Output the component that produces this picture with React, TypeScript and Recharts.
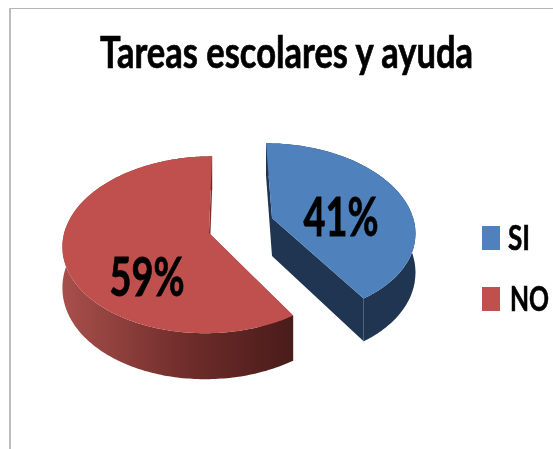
import React from "react";
import { PieChart, Pie, Legend } from "recharts";

const categories = ["SI", "NO"];
const shares = [41, 59];

const TOP_COLORS = ["#4f81bd", "#c0504d"];
const SIDE_COLORS = ["#1f3552", "url(#redSide)"];

// per slice: explode offset, scale, shear and extrusion depth of the fake 3D look
const OFFSET_X = [63, 0];
const OFFSET_Y = [-15, 0];
const SCALE = [0.96, 0.985];
const SHEAR = [0.08, -0.04];
const DEPTH = [38, 40];
const LABEL_X = [341, 147];
const LABEL_Y = [236, 296];

const TILT = 0.6; // ry / rx
const PERSPECTIVE = 0.133;

const tableData = categories.map((name, i) => ({
  name,
  value: shares[i],
  fill: TOP_COLORS[i],
}));

function project(p: any, i: number, deg: number) {
  // deg is the recharts angle (counter clockwise from 3 o'clock)
  const rad = (deg * Math.PI) / 180;
  const nx = Math.cos(rad);
  const ny = -Math.sin(rad);
  const d = 1 - PERSPECTIVE * ny;
  const r = p.outerRadius * SCALE[i];
  const y = (r * TILT * ny) / d;
  const x = (r * nx) / d + SHEAR[i] * y;
  return { x: p.cx + OFFSET_X[i] + x, y: p.cy + OFFSET_Y[i] + y, ny };
}

const drop = (ny: number, i: number) => DEPTH[i] * (1 + 0.15 * ny);
const toPath = (pts: { x: number; y: number }[]) =>
  "M" + pts.map((q) => `${q.x.toFixed(1)},${q.y.toFixed(1)}`).join("L") + "Z";

function Slice3D(props: any) {
  const i = categories.indexOf(props.name ?? props.payload?.name);
  const arc: { x: number; y: number; ny: number }[] = [];
  const steps = Math.ceil(Math.abs(props.endAngle - props.startAngle));
  for (let s = 0; s <= steps; s++) {
    const a = props.startAngle + ((props.endAngle - props.startAngle) * s) / steps;
    arc.push(project(props, i, a));
  }
  const apex = { x: props.cx + OFFSET_X[i], y: props.cy + OFFSET_Y[i] };
  const apexLow = { x: apex.x, y: apex.y + DEPTH[i] };
  const low = arc.map((q) => ({ x: q.x, y: q.y + drop(q.ny, i) }));
  const first = arc[0];
  const last = arc[arc.length - 1];
  const side = SIDE_COLORS[i];
  return (
    <g>
      <defs>
        <linearGradient id="redSide" x1="0" y1="0" x2="1" y2="0">
          <stop offset="0%" stopColor="#a84f4b" />
          <stop offset="55%" stopColor="#6e2c2a" />
          <stop offset="100%" stopColor="#491c1a" />
        </linearGradient>
      </defs>
      <path d={toPath([apex, first, low[0], apexLow])} fill={i === 0 ? side : "#7e2f2c"} />
      <path d={toPath([apex, last, low[low.length - 1], apexLow])} fill={i === 0 ? side : "#7e2f2c"} />
      <path d={toPath([...arc, ...[...low].reverse()])} fill={side} />
      <path d={toPath([apex, ...arc])} fill={TOP_COLORS[i]} />
    </g>
  );
}

function sliceLabel(props: any) {
  const i = categories.indexOf(props.name);
  return (
    <text
      x={LABEL_X[i]}
      y={LABEL_Y[i]}
      textAnchor="middle"
      fontFamily="Lato"
      fontWeight={700}
      fontSize={53}
      fill="#000"
      stroke="#000"
      strokeWidth={0.8}
      textLength={75}
      lengthAdjust="spacingAndGlyphs"
    >
      {`${props.value}%`}
    </text>
  );
}

const LEGEND_TOP = [226, 287];
const LEGEND_TEXT_X = [508, 510];
const LEGEND_TEXT_W = [22, 39];

function renderLegend(props: any) {
  return (
    <svg width={553} height={449} style={{ display: "block" }}>
      {(props.payload || []).map((entry: any, i: number) => (
        <g key={entry.value}>
          <rect x={482} y={LEGEND_TOP[i]} width={18} height={24} fill={TOP_COLORS[i]} />
          <text
            x={LEGEND_TEXT_X[i]}
            y={LEGEND_TOP[i] + 24}
            fontFamily="Lato"
            fontWeight={700}
            fontSize={35}
            fill="#000"
            stroke="#000"
            strokeWidth={0.6}
            textLength={LEGEND_TEXT_W[i]}
            lengthAdjust="spacingAndGlyphs"
          >
            {entry.value}
          </text>
        </g>
      ))}
    </svg>
  );
}

export default function App() {
  return (
    <div style={{ position: "absolute", left: 0, top: 0, width: 553, height: 449, background: "#fff", overflow: "hidden" }}>
      {/* chart frame, only top and left edges are inside the picture */}
      <div
        style={{
          position: "absolute",
          left: 9,
          top: 8,
          right: 0,
          bottom: 0,
          borderTop: "1px solid #b5b5b5",
          borderLeft: "2px solid #bdbdbd",
        }}
      />
      <div style={{ position: "absolute", left: 0, top: 0, filter: "blur(0.4px)" }}>
        <PieChart width={553} height={449} margin={{ top: 0, right: 0, bottom: 0, left: 0 }}>
          <text
            x={100}
            y={68}
            fontFamily="Lato"
            fontWeight={700}
            fontSize={43}
            fill="#000"
            stroke="#000"
            strokeWidth={0.7}
            textLength={373}
            lengthAdjust="spacingAndGlyphs"
          >
            Tareas escolares y ayuda
          </text>
          <Pie
            data={tableData}
            dataKey="value"
            nameKey="name"
            cx={209}
            cy={233}
            outerRadius={147}
            startAngle={90}
            endAngle={-270}
            stroke="none"
            labelLine={false}
            label={sliceLabel}
            shape={Slice3D}
            isAnimationActive={false}
          />
          <Legend
            content={renderLegend}
            itemSorter={null}
            wrapperStyle={{ position: "absolute", left: 0, top: 0, width: 553, height: 449, pointerEvents: "none" }}
          />
        </PieChart>
      </div>
    </div>
  );
}
